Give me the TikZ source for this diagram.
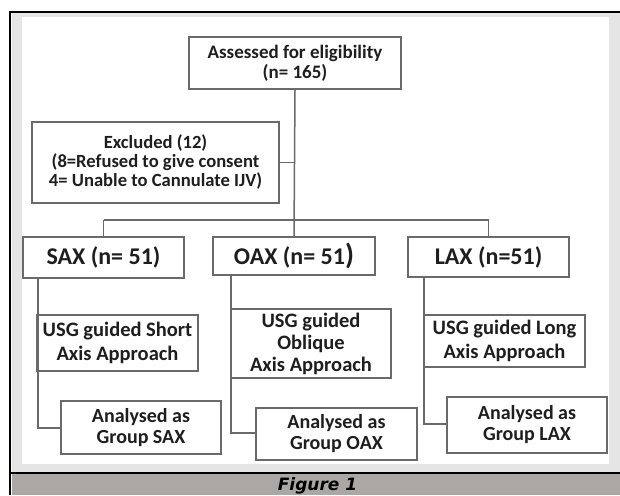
\documentclass[tikz,border=0pt]{standalone}
\usepackage{fontspec}
\setmainfont{Carlito}
\newfontfamily\capfont{DejaVu Sans}
\definecolor{bandgray}{HTML}{E5E5E5}
\definecolor{capgray}{HTML}{ABA7A5}
\definecolor{boxline}{HTML}{6A6A6A}
\definecolor{txt}{HTML}{1E1E1E}
\begin{document}
\begin{tikzpicture}[x=1pt,y=-1pt,
  box/.style={draw=boxline, line width=1.5pt, fill=white, inner sep=0pt, align=center, text=txt, font=\bfseries},
  link/.style={draw=boxline, line width=1.5pt},
  fA/.style={font=\fontsize{19}{20}\selectfont\bfseries},
  fB/.style={font=\fontsize{18.6}{19}\selectfont\bfseries},
  fC/.style={font=\fontsize{24}{26}\selectfont\bfseries},
  fD/.style={font=\fontsize{20.5}{24}\selectfont\bfseries},
  fE/.style={font=\fontsize{20}{21}\selectfont\bfseries}]
\useasboundingbox (0,0) rectangle (620,495);
% background frame
\fill[white] (0,0) rectangle (620,495);
\fill[bandgray] (11.5,13.5) rectangle (620,472);
\fill[white] (22,17) rectangle (609,464);
\fill[capgray] (11.5,474) rectangle (620,495);
\draw[black, line width=2.5pt] (10,495) -- (10,12) -- (620,12);
\draw[black, line width=2.5pt] (10,472.8) -- (620,472.8);
% boxes
\node[box, fA, minimum width=212pt, minimum height=52pt] (top) at (295,63) {Assessed for eligibility\\(n= 165)};
\node[box, fB, minimum width=247pt, minimum height=81pt] (excl) at (155.5,162.5) {Excluded (12)\\(8=Refused to give consent\\4= Unable to Cannulate IJV)};
\node[box, fC, minimum width=161pt, minimum height=41pt] (sax) at (103.5,257.5) {SAX (n= 51)};
\node[box, fC, minimum width=162pt, minimum height=38pt] (oax) at (294,256) {OAX (n= 51{\fontsize{29}{29}\selectfont)}};
\node[box, fC, minimum width=161pt, minimum height=40pt] (lax) at (488.5,257) {LAX (n=51)};
\node[box, fD, minimum width=161pt, minimum height=56pt] (usgs) at (117.5,343) {USG guided Short\\Axis Approach};
\node[box, fD, font=\fontsize{20.5}{22}\selectfont\bfseries, minimum width=160pt, minimum height=69pt] (usgo) at (311,343.5) {USG guided\\Oblique\\Axis Approach};
\node[box, fD, minimum width=161pt, minimum height=52pt] (usgl) at (504.5,341) {USG guided Long\\Axis Approach};
\node[box, fE, minimum width=160pt, minimum height=53pt] (ans) at (141,427.5) {Analysed as\\Group SAX};
\node[box, fE, minimum width=161pt, minimum height=52pt] (ano) at (336.5,434) {Analysed as\\Group OAX};
\node[box, fE, minimum width=160pt, minimum height=56pt] (anl) at (527,425) {Analysed as\\Group LAX};
% connector coordinates
\coordinate (busl) at (103.5,220);
\coordinate (busr) at (488.5,220);
\coordinate (ej) at (295,162.5);
\coordinate (sj) at (38,428);
\coordinate (oj) at (231,433);
\coordinate (lj) at (424,424);
% connectors
\draw[link] (top.south) -- (oax.north);
\draw[link] (excl.east) -- (ej);
\draw[link] (busl) -- (busr);
\draw[link] (busl) -- (sax.north);
\draw[link] (busr) -- (lax.north);
\draw[link] (sax.south -| sj) -- (sj) -- (sj -| ans.west);
\draw[link] (oax.south -| oj) -- (oj) -- (oj -| ano.west);
\draw[link] (lax.south -| lj) -- (lj) -- (lj -| anl.west);
% redraw borders of boxes crossed by the side lines
\node[box, minimum width=161pt, minimum height=56pt, fill=none] at (117.5,343) {};
\node[box, minimum width=160pt, minimum height=69pt, fill=none] at (311,343.5) {};
\node[box, minimum width=161pt, minimum height=52pt, fill=none] at (504.5,341) {};
% caption
\node[anchor=base, inner sep=0pt, text=black, font=\capfont\fontsize{17}{18}\selectfont\bfseries\itshape] (cap) at (317.5,490) {Figure 1};
\end{tikzpicture}
\end{document}
